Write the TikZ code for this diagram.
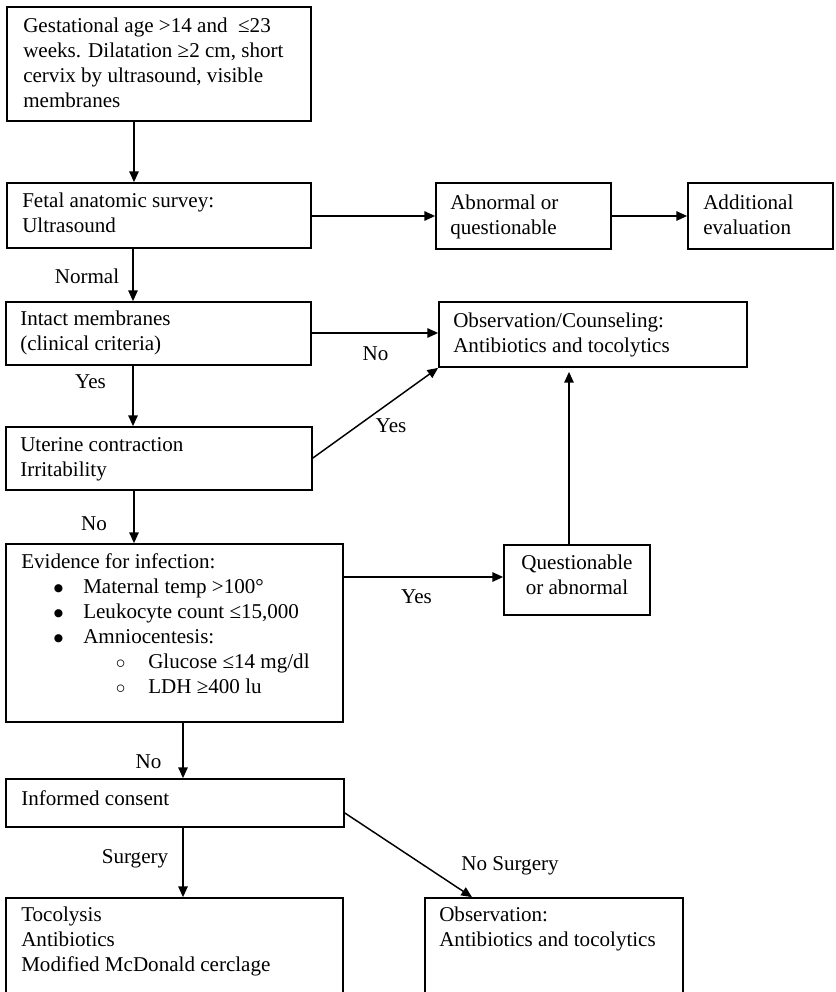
\documentclass[tikz,border=0pt]{standalone}
\usepackage{fontspec}
\setmainfont{Liberation Serif}
\newfontfamily\dejavu{DejaVu Sans}
\usetikzlibrary{arrows.meta,fit}
\newcommand{\fsz}{\fontsize{15.8pt}{18.75pt}\selectfont}
\newcommand{\mydot}{\raisebox{1.6pt}{\dejavu\fontsize{8pt}{8pt}\selectfont ●}}
\newcommand{\myitem}[1]{\makebox[46.5pt][l]{\hspace*{24.5pt}\mydot}#1}
\newcommand{\mysubitem}[1]{\makebox[95.25pt][l]{\hspace*{71pt}$\circ$}#1}
\begin{document}
\begin{tikzpicture}[x=0.75pt,y=-0.75pt,
  box/.style={draw, line width=1.3pt, inner sep=0pt},
  txt/.style={anchor=north west, inner sep=0pt, align=left, font=\fsz, execute at begin node=\strut},
  ctxt/.style={anchor=north, inner sep=0pt, align=center, font=\fsz, execute at begin node=\strut},
  lbl/.style={anchor=base, inner sep=0pt, font=\fsz},
  arr/.style={line width=1.1pt, -{Triangle[length=8pt,width=7pt]}},
  ln/.style={line width=1.1pt}]
\path[use as bounding box, clip] (0,0) rectangle (835,992);
\fill[white] (0,0) rectangle (835,992);

% boxes
\node[box, fit={(7,7) (311,121)}] (b1) {};
\node[box, fit={(7,183) (311,248)}] (b2) {};
\node[box, fit={(436,183) (611,249)}] (abn) {};
\node[box, fit={(688,183) (833,249)}] (add) {};
\node[box, fit={(6,302) (311,365)}] (b3) {};
\node[box, fit={(439,302) (747,367)}] (obs) {};
\node[box, fit={(6,427) (312,490)}] (b4) {};
\node[box, fit={(504,545) (650,615)}] (q) {};
\node[box, fit={(6,544) (343,722)}] (b5) {};
\node[box, fit={(6,779) (344,827)}] (b6) {};
\node[box, fit={(6,898) (343,1020)}] (b7) {};
\node[box, fit={(425,898) (683,1020)}] (o2) {};

% texts
\node[txt] (t1) at (23,17.5) {Gestational age >14 and \ ≤23\\weeks. Dilatation ≥2 cm, short\\cervix by ultrasound, visible\\membranes};
\node[txt] (t2) at (22,192.5) {Fetal anatomic survey:\\Ultrasound};
\node[txt] (tabn) at (450,194.5) {Abnormal or\\questionable};
\node[txt] (tadd) at (703,194.5) {Additional\\evaluation};
\node[txt] (t3) at (20,310.5) {Intact membranes\\(clinical criteria)};
\node[txt] (tobs) at (453,312.5) {Observation/Counseling:\\Antibiotics and tocolytics};
\node[txt] (t4) at (20,437.5) {Uterine contraction\\Irritability};
\node[ctxt] (tq) at (577,554.5) {Questionable\\or abnormal};
\node[txt] (t5) at (21,553.5) {Evidence for infection:\\\myitem{Maternal temp >100°}\\\myitem{Leukocyte count ≤15,000}\\\myitem{Amniocentesis:}\\\mysubitem{Glucose ≤14 mg/dl}\\\mysubitem{LDH ≥400 lu}};
\node[txt] (t6) at (21,787.5) {Informed consent};
\node[txt] (t7) at (21,906.5) {Tocolysis\\Antibiotics\\Modified McDonald cerclage};
\node[txt] (to2) at (439,906.5) {Observation:\\Antibiotics and tocolytics};

% connectors
\draw[arr] (134,0 |- b1.south) -- (134,0 |- b2.north);
\draw[arr] (b2.east |- 0,216) -- (abn.west |- 0,216);
\draw[arr] (abn.east |- 0,216) -- (add.west |- 0,216);
\draw[arr] (133,0 |- b2.south) -- (133,0 |- b3.north);
\draw[arr] (b3.east |- 0,333) -- (obs.west |- 0,333);
\draw[arr] (133,0 |- b3.south) -- (133,0 |- b4.north);
\draw[arr] (b4.east |- 0,458) -- (obs.south west);
\draw[arr] (134,0 |- b4.south) -- (134,0 |- b5.north);
\draw[arr] (b5.east |- 0,577) -- (q.west |- 0,577);
\draw[arr, shorten >=3pt] (569,0 |- q.north) -- (569,0 |- obs.south);
\draw[arr] (183,0 |- b5.south) -- (183,0 |- b6.north);
\draw[arr] (183,0 |- b6.south) -- (183,0 |- b7.north);
\draw[arr] (b6.east |- 0,813) -- (472,0 |- o2.north);

% labels
\node[lbl] (lnormal) at (87,283) {Normal};
\node[lbl] (lno1) at (375.5,360) {No};
\node[lbl] (lyes1) at (90.5,388) {Yes};
\node[lbl] (lyes2) at (391,432) {Yes};
\node[lbl] (lno2) at (94,530) {No};
\node[lbl] (lyes3) at (416.5,603) {Yes};
\node[lbl] (lno3) at (148.5,768) {No};
\node[lbl] (lsurg) at (135,863) {Surgery};
\node[lbl] (lnosurg) at (510,870) {No Surgery};
\end{tikzpicture}
\end{document}
